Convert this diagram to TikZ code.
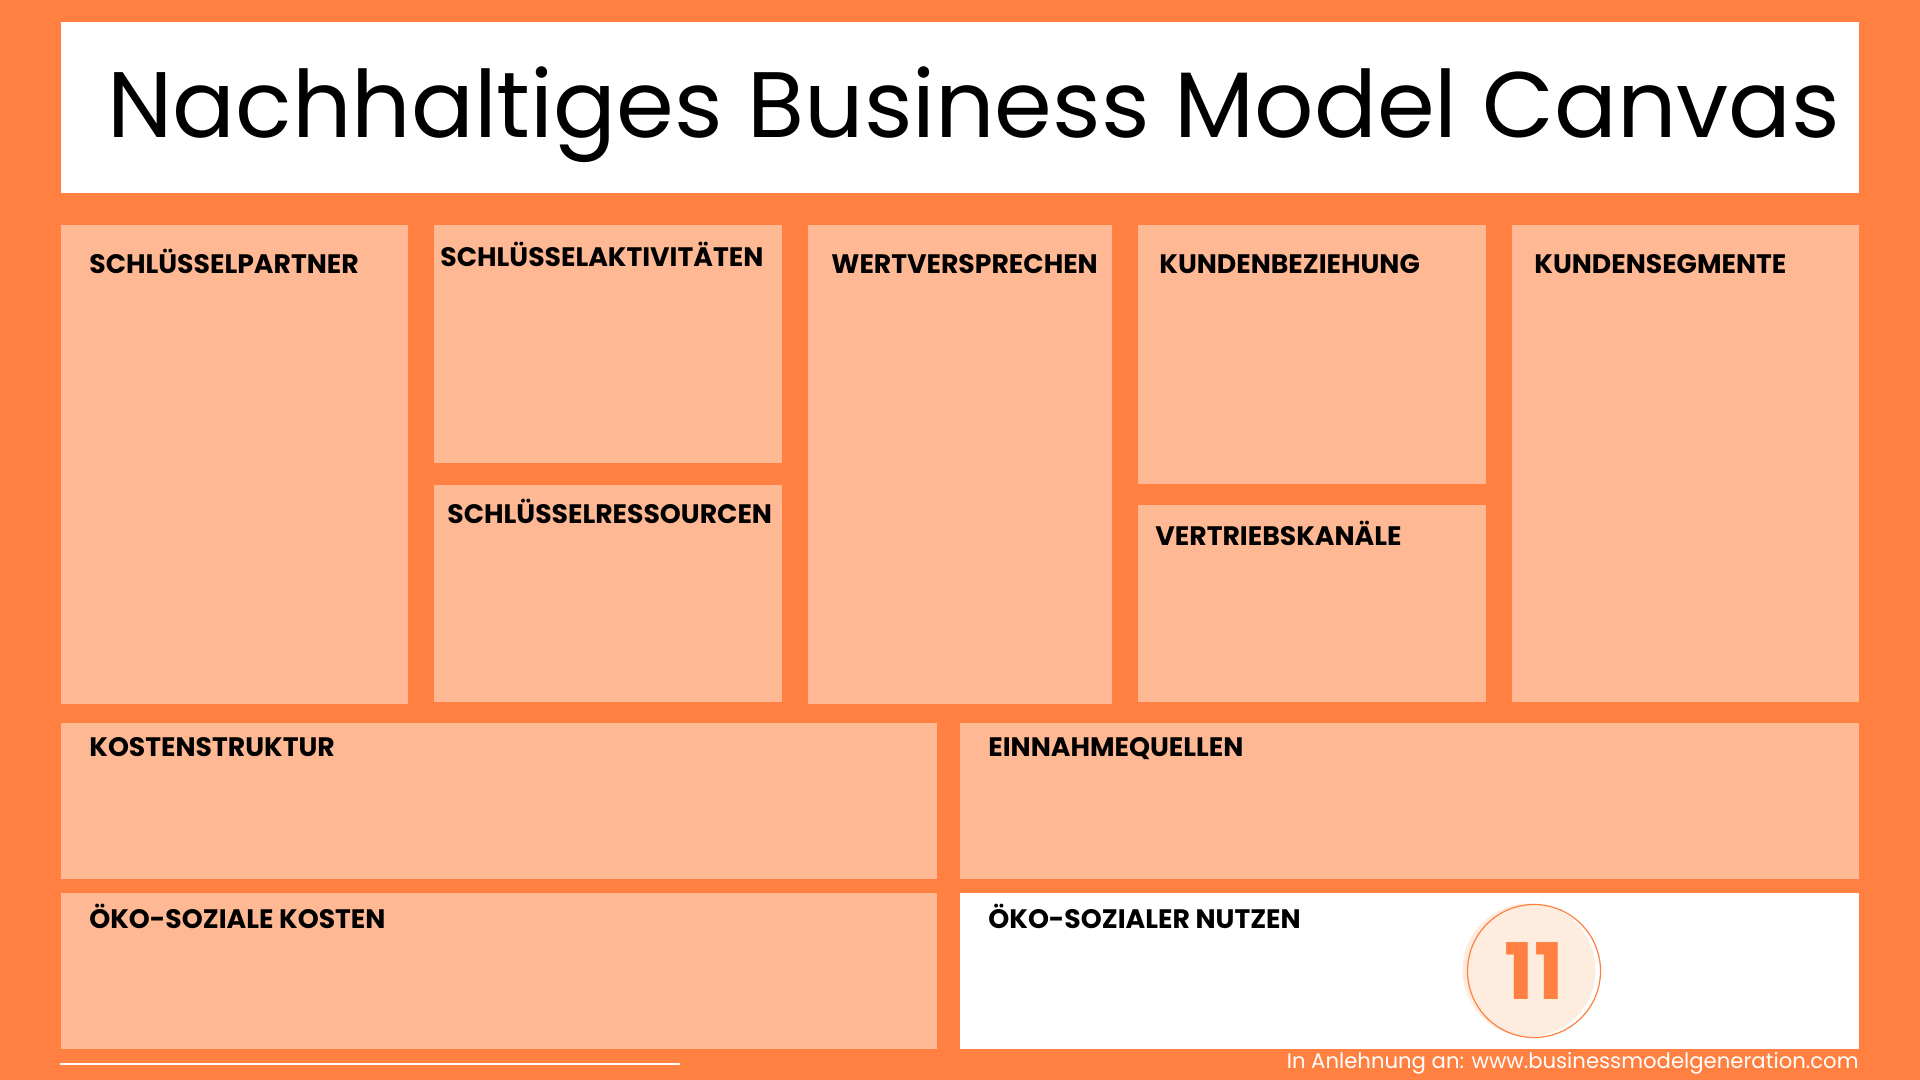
\documentclass[tikz,border=0pt]{standalone}
\usepackage{fontspec}
\setmainfont{Poppins}
\usetikzlibrary{positioning}
\definecolor{canvasorange}{HTML}{FF8040}
\definecolor{feldfarbe}{HTML}{FFB894}
\definecolor{kreisfarbe}{HTML}{FEECDE}
\begin{document}
\begin{tikzpicture}[x=0.5pt, y=-0.5pt,
    feld/.style 2 args = {fill=feldfarbe, inner sep=0, outer sep=0, anchor=north west,
        minimum width=#1*0.5pt, minimum height=#2*0.5pt},
    kopf/.style = {inner sep=0, anchor=base west, font=\fontsize{13.35}{16}\selectfont\bfseries}]
    \fill[canvasorange] (0,0) rectangle (1920,1080);

    % Titel
    \node[feld={1798}{171}, fill=white] (titelbox) at (61,22) {};
    \node[inner sep=0, anchor=base west, font=\fontsize{46.5}{50}\selectfont] (titel) at (107,138) {Nachhaltiges Business Model Canvas};

    % obere Reihe
    \node[feld={347}{479}] (partner) at (61,225) {};
    \node[feld={348}{238}] (aktivitaeten) at (434,225) {};
    \node[feld={348}{217}] (ressourcen) at (434,485) {};
    \node[feld={304}{479}] (wert) at (808,225) {};
    \node[feld={348}{259}] (beziehung) at (1138,225) {};
    \node[feld={348}{197}] (kanaele) at (1138,505) {};
    \node[feld={347}{477}] (segmente) at (1512,225) {};

    % untere Reihen
    \node[feld={876}{156}] (kosten) at (61,723) {};
    \node[feld={899}{156}] (einnahmen) at (960,723) {};
    \node[feld={876}{156}] (oekokosten) at (61,893) {};
    \node[feld={899}{156}, fill=white] (nutzen) at (960,893) {};

    \node[kopf] (partnerkopf) at ([shift={(28,49)}]partner.north west) {SCHLÜSSELPARTNER};
    \node[kopf] (aktivitaetenkopf) at ([shift={(6,42)}]aktivitaeten.north west) {SCHLÜSSELAKTIVITÄTEN};
    \node[kopf] (ressourcenkopf) at ([shift={(13,38)}]ressourcen.north west) {SCHLÜSSELRESSOURCEN};
    \node[kopf] (wertkopf) at ([shift={(23,49)}]wert.north west) {WERTVERSPRECHEN};
    \node[kopf] (beziehungkopf) at ([shift={(21,49)}]beziehung.north west) {KUNDENBEZIEHUNG};
    \node[kopf] (kanaelekopf) at ([shift={(17,40)}]kanaele.north west) {VERTRIEBSKANÄLE};
    \node[kopf] (segmentekopf) at ([shift={(22,49)}]segmente.north west) {KUNDENSEGMENTE};
    \node[kopf] (kostenkopf) at ([shift={(28,33)}]kosten.north west) {KOSTENSTRUKTUR};
    \node[kopf] (einnahmenkopf) at ([shift={(28,33)}]einnahmen.north west) {EINNAHMEQUELLEN};
    \node[kopf] (oekokostenkopf) at ([shift={(28,35)}]oekokosten.north west) {ÖKO-SOZIALE KOSTEN};
    \node[kopf] (nutzenkopf) at ([shift={(28,35)}]nutzen.north west) {ÖKO-SOZIALER NUTZEN};

    % Nummer
    \node[circle, fill=kreisfarbe, inner sep=0, minimum size=133*0.5pt] (kreis) at (1529,970) {};
    \node[circle, draw=canvasorange, line width=0.6pt, inner sep=0, minimum size=133*0.5pt,
        text=canvasorange, font=\fontsize{39}{42}\selectfont\bfseries] (nummer) at (1534,971) {11};

    % Fuss
    \draw[white, line width=1pt] (60,1064) -- (680,1064);
    \node[inner sep=0, anchor=base east, text=white, font=\fontsize{10.6}{13}\selectfont] (quelle) at (1859,1068) {In Anlehnung an: www.businessmodelgeneration.com};
\end{tikzpicture}
\end{document}
